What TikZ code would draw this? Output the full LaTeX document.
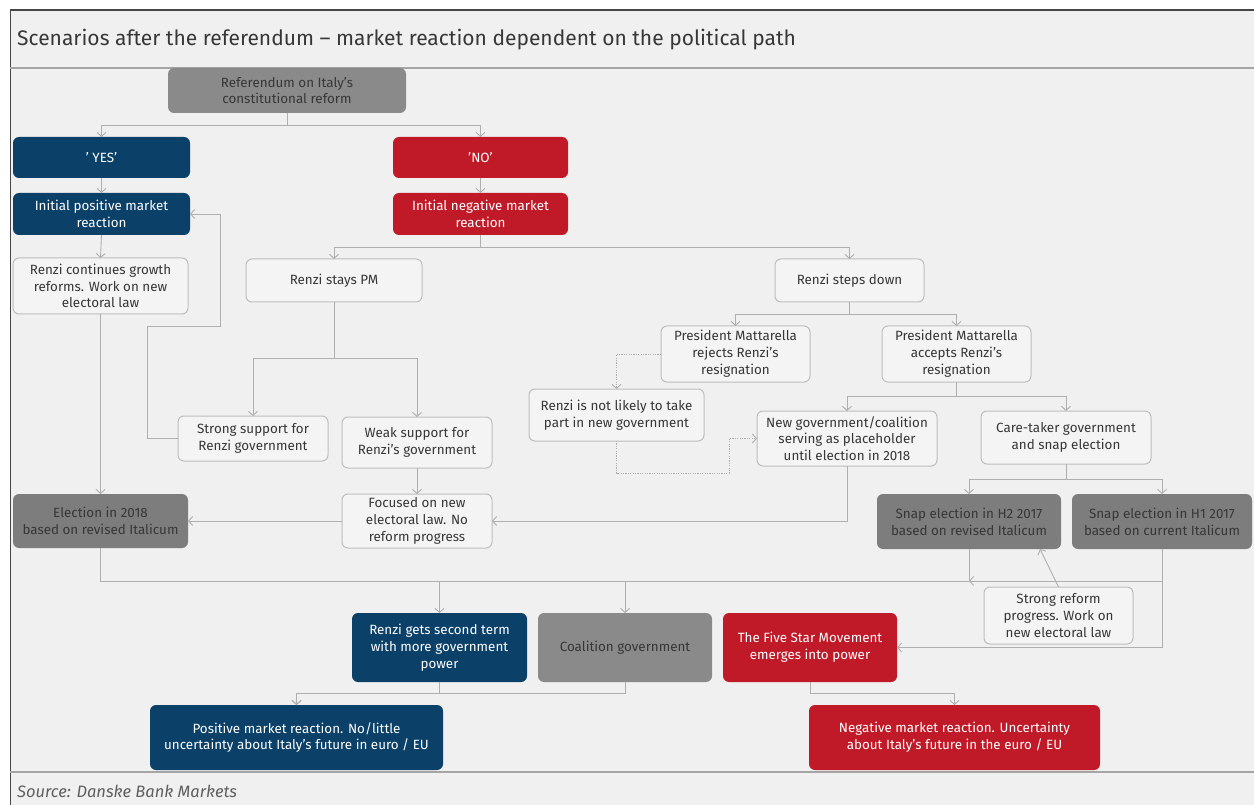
\documentclass[tikz,border=0pt]{standalone}
\usepackage{fontspec}
\setmainfont{Fira Sans}
\usetikzlibrary{arrows.meta}
\definecolor{dbblue}{RGB}{11,64,104}
\definecolor{dbred}{RGB}{192,26,40}
\definecolor{dbgray}{RGB}{125,125,125}
\definecolor{dbgraylt}{RGB}{138,138,138}
\definecolor{dbtext}{RGB}{55,55,55}
\definecolor{panel}{RGB}{240,240,240}
\definecolor{boxwhite}{RGB}{244,244,244}
\definecolor{boxline}{RGB}{190,190,190}
\definecolor{lncol}{RGB}{175,175,175}
\definecolor{topline}{RGB}{70,70,70}
\definecolor{hdrline}{RGB}{165,165,165}
\tikzset{
  box/.style={rectangle, rounded corners=6pt, align=center, inner sep=2pt, outer sep=0pt,
    font=\fontsize{13.4}{16.8}\selectfont},
  wh/.style 2 args={minimum width=#1pt, minimum height=#2pt},
  bluebox/.style={box, fill=dbblue, text=white},
  redbox/.style={box, fill=dbred, text=white},
  graybox/.style={box, fill=dbgray, text=dbtext},
  whitebox/.style={box, fill=boxwhite, draw=boxline, line width=1pt, text=dbtext},
  conn/.style={draw=lncol, line width=0.9pt},
  arr/.style={conn, -{Straight Barb[length=4pt,width=9pt]}},
  darr/.style={arr, dash pattern=on 1.2pt off 1.2pt},
}
\begin{document}
\begin{tikzpicture}[x=1pt,y=-1pt]
\useasboundingbox (0,0) rectangle (1254,805);
\fill[white] (0,0) rectangle (1254,805);
\fill[panel] (10,10) rectangle (1254,805);
\draw[topline, line width=2pt] (10,10) -- (1254,10);
\draw[topline, line width=1pt] (10,10) -- (10,805);
\draw[hdrline, line width=1.5pt] (10,68) -- (1254,68);
\draw[hdrline, line width=1.5pt] (10,772) -- (1254,772);
\node[anchor=west, text=dbtext, font=\fontsize{21}{25}\selectfont, inner sep=0pt] (title) at (17,40)
  {Scenarios after the referendum – market reaction dependent on the political path};
\node[anchor=west, text=dbtext!80, font=\fontsize{16.5}{19}\selectfont\itshape, inner sep=0pt] (source) at (17,791)
  {Source: Danske Bank Markets};

% nodes
\node[box, fill=dbgraylt, text=dbtext, wh={238}{45}] (ref) at (287,90.5) {Referendum on Italy's\\constitutional reform};
\node[bluebox, wh={177}{41}] (yes) at (101.5,157.5) {' YES'};
\node[redbox, wh={175}{41}] (no) at (480.5,157.5) {'NO'};
\node[bluebox, wh={177}{42}] (ipos) at (101.5,214) {Initial positive market\\reaction};
\node[redbox, wh={175}{42}] (ineg) at (480.5,214) {Initial negative market\\reaction};
\node[whitebox, wh={175}{56}] (rcont) at (100.5,286) {Renzi continues growth\\reforms. Work on new\\electoral law};
\node[whitebox, wh={176}{43}] (stays) at (334,280.5) {Renzi stays PM};
\node[whitebox, wh={149}{43}] (steps) at (849.5,280.5) {Renzi steps down};
\node[whitebox, wh={149}{56}] (rej) at (735.5,354) {President Mattarella\\rejects Renzi's\\resignation};
\node[whitebox, wh={149}{56}] (acc) at (956.5,354) {President Mattarella\\accepts Renzi's\\resignation};
\node[whitebox, wh={175}{52}] (notlik) at (616.5,415) {Renzi is not likely to take\\part in new government};
\node[whitebox, wh={180}{55}] (newgov) at (847,438.5) {New government/coalition\\serving as placeholder\\until election in 2018};
\node[whitebox, wh={170}{53}] (care) at (1066,437.5) {Care-taker government\\and snap election};
\node[whitebox, wh={150}{45}] (strong) at (253,438.5) {Strong support for\\Renzi government};
\node[whitebox, wh={150}{51}] (weak) at (417,442.5) {Weak support for\\Renzi's government};
\node[whitebox, wh={150}{54}] (focus) at (417,521) {Focused on new\\electoral law. No\\reform progress};
\node[graybox, wh={175}{54}] (elec) at (100.5,521) {Election in 2018\\based on revised Italicum};
\node[graybox, wh={184}{55}] (h2) at (969,521.5) {Snap election in H2 2017\\based on revised Italicum};
\node[graybox, wh={180}{55}] (h1) at (1162,521.5) {Snap election in H1 2017\\based on current Italicum};
\node[whitebox, wh={149}{57}] (sreform) at (1058.5,615.5) {Strong reform\\progress. Work on\\new electoral law};
\node[bluebox, wh={175}{69}] (second) at (439.5,647.5) {Renzi gets second term\\with more government\\power};
\node[box, fill=dbgraylt, text=dbtext, wh={174}{69}] (coal) at (625,647.5) {Coalition government};
\node[redbox, wh={174}{69}] (five) at (810,647.5) {The Five Star Movement\\emerges into power};
\node[bluebox, wh={293}{65}] (pos) at (296.5,737.5) {Positive market reaction. No/little\\uncertainty about Italy's future in euro / EU};
\node[redbox, wh={291}{65}] (neg) at (954.5,737.5) {Negative market reaction. Uncertainty\\about Italy's future in the euro / EU};

% helper coordinates
\coordinate (fb1) at (147,326);
\coordinate (fb2) at (220,326);
\coordinate (d1) at (616.5,473);
\coordinate (d2) at (729,473);
\coordinate (busL) at (100.5,581);

% connectors
\draw[arr] (ref.south) |- ([yshift=12pt]yes.north) -- (yes.north);
\draw[arr] (ref.south) |- ([yshift=12pt]no.north) -- (no.north);
\draw[arr] (yes.south) -- (ipos.north);
\draw[arr] (no.south) -- (ineg.north);
\draw[arr] (ipos.south) -- (rcont.north);
\draw[arr] (rcont.south) -- (elec.north);
\draw[arr] (ineg.south) |- ([yshift=12pt]stays.north) -- (stays.north);
\draw[arr] (ineg.south) |- ([yshift=12pt]steps.north) -- (steps.north);
\draw[arr] (stays.south) |- ([yshift=58pt]strong.north) -- (strong.north);
\draw[arr] (stays.south) |- ([yshift=59pt]weak.north) -- (weak.north);
\draw[arr] (strong.west) -| (fb1) -- (fb2) |- (ipos.east);
\draw[arr] (weak.south) -- (focus.north);
\draw[arr] (focus.west) -- (elec.east);
\draw[arr] (steps.south) |- ([yshift=12pt]rej.north) -- (rej.north);
\draw[arr] (steps.south) |- ([yshift=12pt]acc.north) -- (acc.north);
\draw[darr] (rej.west) -| (notlik.north);
\draw[darr] (notlik.south) -- (d1) -- (d2) |- (newgov.west);
\draw[arr] (acc.south) |- ([yshift=15pt]newgov.north) -- (newgov.north);
\draw[arr] (acc.south) |- ([yshift=15pt]care.north) -- (care.north);
\draw[arr] (newgov.south) |- (focus.east);
\draw[arr] (care.south) |- ([yshift=15pt]h2.north) -- (h2.north);
\draw[arr] (care.south) |- ([yshift=15pt]h1.north) -- (h1.north);
\draw[arr] (elec.south) |- ([yshift=32pt]second.north) -- (second.north);
\draw[arr] (elec.south) |- ([yshift=32pt]coal.north) -- (coal.north);
\draw[conn] (h2.south) |- (coal.north |- busL);
\draw[arr] (h1.south) |- (h2.south |- busL);
\draw[arr] (h1.south) |- (five.east);
\draw[arr] (sreform.north) -- ([xshift=-21pt]h2.south east);
\draw[arr] (second.south) |- ([yshift=12pt]pos.north) -- (pos.north);
\draw[arr] (coal.south) |- ([yshift=12pt]pos.north) -- (pos.north);
\draw[arr] (five.south) |- ([yshift=12pt]neg.north) -- (neg.north);
\end{tikzpicture}
\end{document}
